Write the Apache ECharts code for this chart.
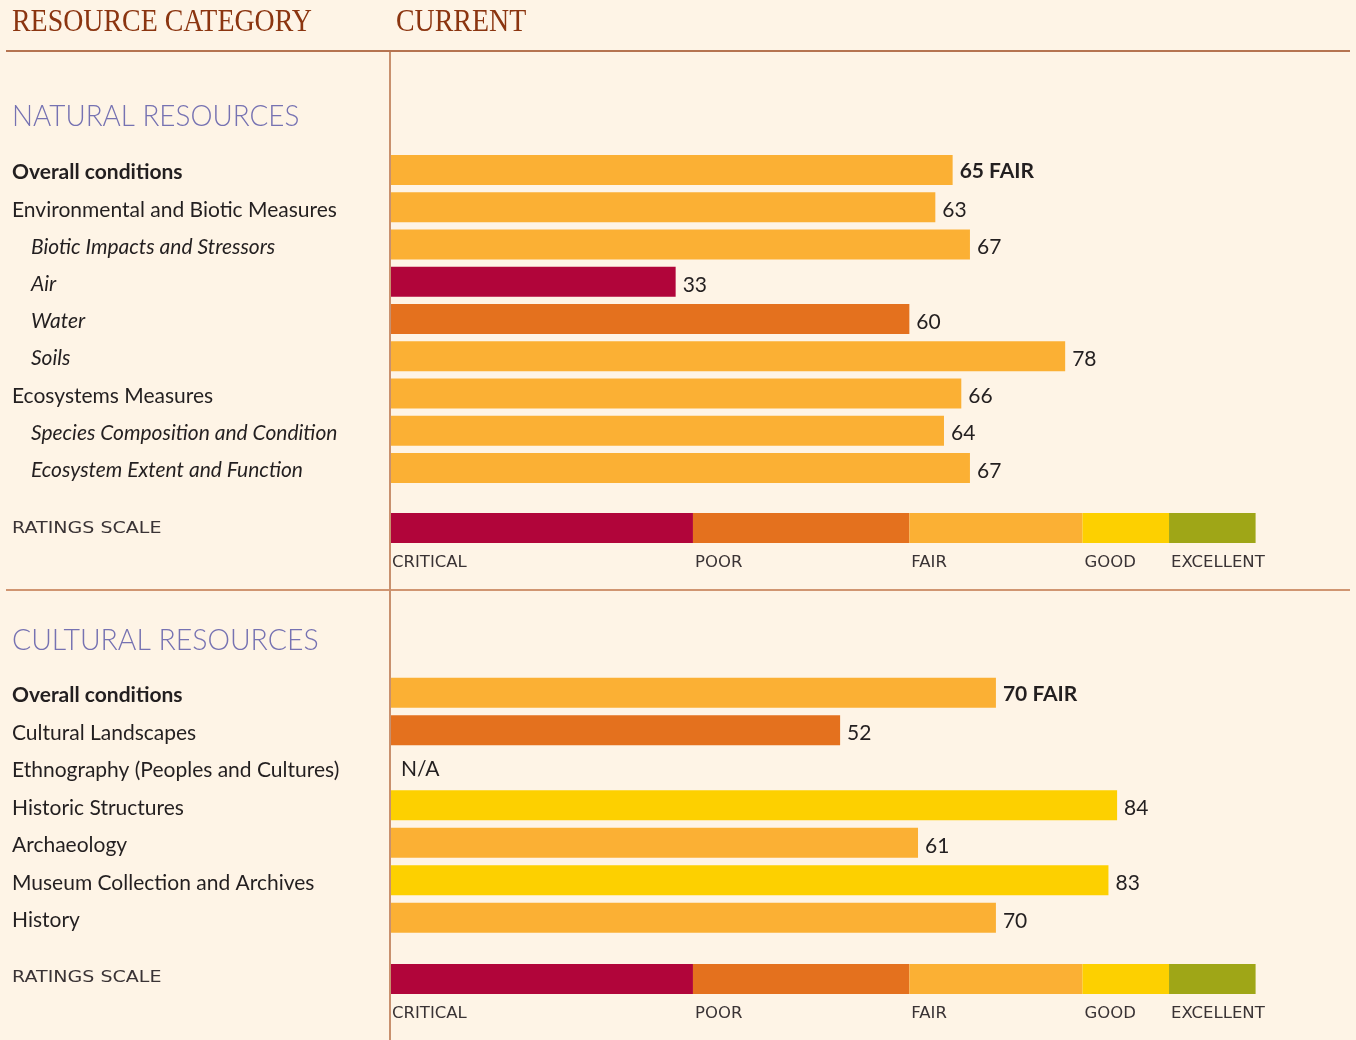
<!DOCTYPE html>
<html>
<head>
<meta charset="utf-8">
<script src="https://cdn.jsdelivr.net/npm/echarts@6/dist/echarts.min.js"></script>
<style>
  html, body { margin: 0; padding: 0; background: #fef4e6; }
  #chart { width: 1356px; height: 1040px; }
</style>
</head>
<body>
<div id="chart"></div>
<script>
// rating scale
const scaleNames = ['CRITICAL', 'POOR', 'FAIR', 'GOOD', 'EXCELLENT']
const scaleBounds = [0, 35, 60, 80, 90, 100]
const scaleColors = ['#b1053a', '#e4711e', '#fbb034', '#fdd000', '#9fa617']

// natural resources
const naturalLabels = [
  'Overall conditions',
  'Environmental and Biotic Measures',
  'Biotic Impacts and Stressors',
  'Air',
  'Water',
  'Soils',
  'Ecosystems Measures',
  'Species Composition and Condition',
  'Ecosystem Extent and Function',
]
const naturalLevels = [0, 1, 2, 2, 2, 2, 1, 2, 2]
const naturalValues = [65, 63, 67, 33, 60, 78, 66, 64, 67]

// cultural resources
const culturalLabels = [
  'Overall conditions',
  'Cultural Landscapes',
  'Ethnography (Peoples and Cultures)',
  'Historic Structures',
  'Archaeology',
  'Museum Collection and Archives',
  'History',
]
const culturalLevels = [0, 1, 1, 1, 1, 1, 1]
const culturalValues = [70, 52, null, 84, 61, 83, 70]

const textColor = '#231f20'
const font = 'Lato, "Noto Sans", sans-serif'
const capsFont = '"DejaVu Sans", sans-serif'

// which band a score falls in (upper bound inclusive)
const ratingIndex = v => {
  for (let i = 1; i < scaleBounds.length; i++) {
    if (v <= scaleBounds[i]) return i - 1
  }
  return scaleBounds.length - 2
}

const labelFormatter = levels => (value, idx) => {
  const style = ['b', 'n', 'i'][levels[idx]]
  return `{${style}|${value}}`
}

const richLabels = {
  b: { fontFamily: font, fontSize: 21, fontWeight: 'bold', color: textColor, padding: [5, 0, 0, 0] },
  n: { fontFamily: font, fontSize: 21, color: textColor, padding: [5, 0, 0, 0] },
  i: { fontFamily: font, fontSize: 21, fontStyle: 'italic', color: textColor, padding: [5, 0, 0, 19] },
}

const barData = values => values.map((v, i) => {
  if (v === null) {
    return { value: 0, label: { formatter: 'N/A', distance: 11, offset: [0, 1] } }
  }
  const item = { value: v, itemStyle: { color: scaleColors[ratingIndex(v)] } }
  if (i === 0) {
    item.label = { fontWeight: 'bold', offset: [0, 1], formatter: `${v} ${scaleNames[ratingIndex(v)]}` }
  }
  return item
})

const left = 390
const width = 865.6

const grids = [
  { left, top: 151.5, width, height: 335 },
  { left, top: 513, width, height: 30 },
  { left, top: 674, width, height: 262.5 },
  { left, top: 964, width, height: 30 },
]

const hiddenX = idx => ({
  type: 'value', gridIndex: idx, min: 0, max: 100,
  show: false, splitLine: { show: false },
})

const catY = (idx, labels, levels) => ({
  type: 'category', gridIndex: idx, data: labels, inverse: true,
  axisLine: { show: false }, axisTick: { show: false },
  axisLabel: {
    show: !!levels,
    align: 'left', margin: 378,
    formatter: levels ? labelFormatter(levels) : undefined,
    rich: richLabels,
  },
})

const scaleSeries = gridIdx => scaleNames.map((name, i) => ({
  type: 'bar', name, stack: 'scale' + gridIdx,
  xAxisIndex: gridIdx, yAxisIndex: gridIdx,
  barWidth: 30,
  data: [scaleBounds[i + 1] - scaleBounds[i]],
  itemStyle: { color: scaleColors[i] },
  label: {
    show: true, position: [2, 50], align: 'left', verticalAlign: 'middle',
    formatter: name, fontFamily: capsFont, fontSize: 16.5, color: '#3a3335',
  },
  silent: true,
}))

const valueSeries = (gridIdx, values) => ({
  type: 'bar', xAxisIndex: gridIdx, yAxisIndex: gridIdx,
  barWidth: 30,
  data: barData(values),
  label: {
    show: true, position: 'right', distance: 7, offset: [0, 3],
    fontFamily: font, fontSize: 21, color: textColor,
  },
  silent: true,
})

const headerStyle = { fontFamily: '"Liberation Serif", "DejaVu Serif", serif', fontSize: 31, fill: '#8b3510' }
const sectionStyle = { fontFamily: font, fontWeight: 300, fontSize: 29, fill: '#7672b2' }
const scaleTitleStyle = { fontFamily: capsFont, fontSize: 15, fill: '#3a3335' }

const option = {
  backgroundColor: '#fef4e6',
  animation: false,
  grid: grids,
  xAxis: [hiddenX(0), hiddenX(1), hiddenX(2), hiddenX(3)],
  yAxis: [
    catY(0, naturalLabels, naturalLevels),
    catY(1, ['scale'], null),
    catY(2, culturalLabels, culturalLevels),
    catY(3, ['scale'], null),
  ],
  series: [
    valueSeries(0, naturalValues),
    ...scaleSeries(1),
    valueSeries(2, culturalValues),
    ...scaleSeries(3),
  ],
  graphic: [
    { type: 'text', x: 12, y: 7, scaleX: 0.9, style: { text: 'RESOURCE CATEGORY', ...headerStyle } },
    { type: 'text', x: 396, y: 7, scaleX: 0.9, style: { text: 'CURRENT', ...headerStyle } },
    { type: 'line', shape: { x1: 6, y1: 51, x2: 1350, y2: 51 }, style: { stroke: '#9c4a1f', lineWidth: 1.5 } },
    { type: 'line', shape: { x1: 6, y1: 590, x2: 1350, y2: 590 }, style: { stroke: '#c0764a', lineWidth: 1.5 } },
    { type: 'line', shape: { x1: 390, y1: 52, x2: 390, y2: 1040 }, style: { stroke: '#c8906e', lineWidth: 2 }, z: 10 },
    { type: 'text', x: 12, y: 102, scaleX: 0.96, style: { text: 'NATURAL RESOURCES', ...sectionStyle } },
    { type: 'text', x: 12, y: 626, scaleX: 0.98, style: { text: 'CULTURAL RESOURCES', ...sectionStyle } },
    { type: 'text', x: 12, y: 522, scaleX: 1.27, style: { text: 'RATINGS SCALE', ...scaleTitleStyle } },
    { type: 'text', x: 12, y: 971, scaleX: 1.27, style: { text: 'RATINGS SCALE', ...scaleTitleStyle } },
  ],
}

const chart = echarts.init(document.getElementById('chart'))
chart.setOption(option)
</script>
</body>
</html>
